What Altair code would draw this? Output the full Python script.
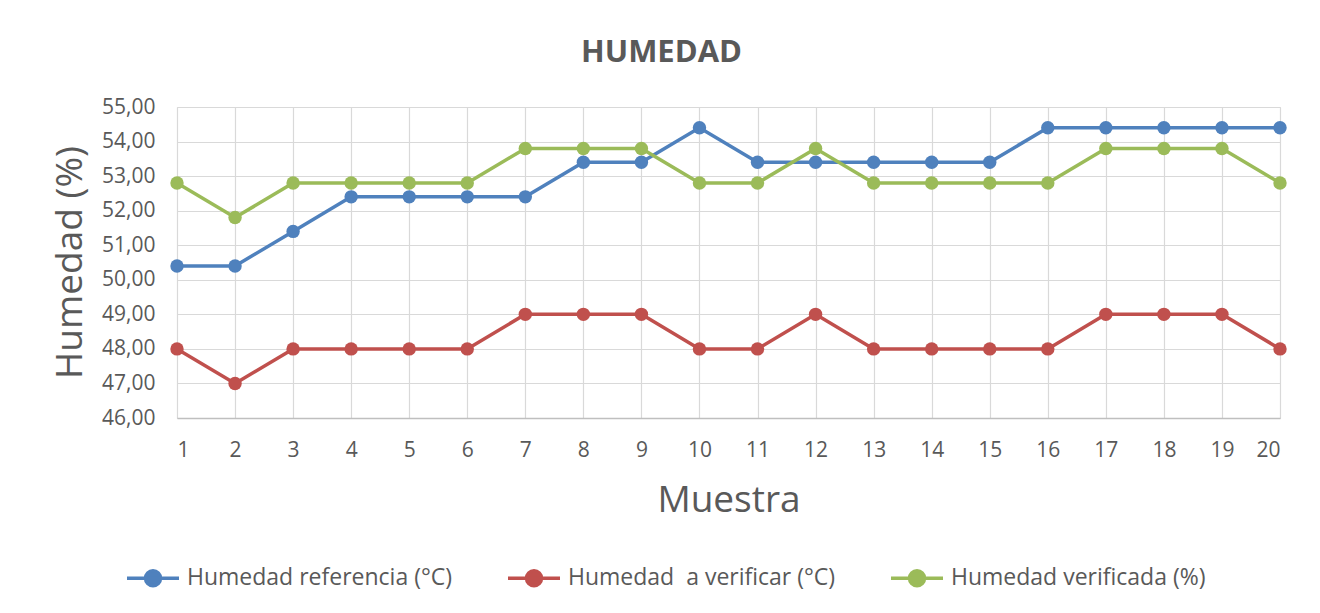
import altair as alt
import pandas as pd

muestras = list(range(1, 21))
series_names = ["Humedad referencia (°C)", "Humedad\u00a0 a verificar (°C)", "Humedad verificada (%)"]
referencia = [50.4, 50.4, 51.4, 52.4, 52.4, 52.4, 52.4, 53.4, 53.4, 54.4,
              53.4, 53.4, 53.4, 53.4, 53.4, 54.4, 54.4, 54.4, 54.4, 54.4]
a_verificar = [48, 47, 48, 48, 48, 48, 49, 49, 49, 48,
               48, 49, 48, 48, 48, 48, 49, 49, 49, 48]
verificada = [52.8, 51.8, 52.8, 52.8, 52.8, 52.8, 53.8, 53.8, 53.8, 52.8,
              52.8, 53.8, 52.8, 52.8, 52.8, 52.8, 53.8, 53.8, 53.8, 52.8]
colors = ["#4f81bd", "#c0504d", "#9bbb59"]
y_ticks = [46, 47, 48, 49, 50, 51, 52, 53, 54, 55]

rows = []
for name, vals in zip(series_names, [referencia, a_verificar, verificada]):
    for m, v in zip(muestras, vals):
        rows.append({"Muestra": m, "Serie": name, "Valor": v})
df = pd.DataFrame(rows)

FONT = "Open Sans"
GRAY = "#595959"

color = alt.Color(
    "Serie:N",
    scale=alt.Scale(domain=series_names, range=colors),
    sort=series_names,
    legend=alt.Legend(
        title=None, orient="none", direction="horizontal",
        legendX=-36, legendY=459,
        symbolType="M-2.6,0H2.6M-0.75,0A0.75,0.75,0,1,0,0.75,0A0.75,0.75,0,1,0,-0.75,0",
        symbolSize=400, symbolStrokeWidth=3.5, symbolOpacity=1,
        labelFontSize=23, labelColor=GRAY, labelFont=FONT, labelLimit=0,
        columnPadding=48, labelOffset=22,
    ),
)

x = alt.X("Muestra:Q",
          scale=alt.Scale(domain=[1, 20], nice=False, zero=False),
          axis=alt.Axis(values=muestras, title="Muestra", format="d",
                        titleFontSize=37, titleFont=FONT, titleColor=GRAY, titleFontWeight="normal",
                        titlePadding=22,
                        labelFontSize=21, labelFont=FONT, labelColor=GRAY, labelPadding=21,
                        ticks=False, domainColor="#bfbfbf", domainWidth=1.5,
                        gridColor="#d9d9d9", gridWidth=1.2))
y = alt.Y("Valor:Q",
          scale=alt.Scale(domain=[46, 55], nice=False, zero=False),
          axis=alt.Axis(values=y_ticks, title="Humedad (%)",
                        labelExpr="replace(format(datum.value, '.2f'), '.', ',')",
                        titleFontSize=37, titleFont=FONT, titleColor=GRAY, titleFontWeight="normal",
                        titleX=-107, titleY=155, titleAlign="center", titleBaseline="middle",
                        titleAngle=270,
                        labelFontSize=21, labelFont=FONT, labelColor=GRAY, labelPadding=22,
                        ticks=False, domain=False,
                        gridColor="#d9d9d9", gridWidth=1.2))

lines = alt.Chart(df).mark_line(strokeWidth=3.5).encode(x=x, y=y, color=color)
points = alt.Chart(df).mark_point(filled=True, size=180, opacity=1).encode(x=x, y=y, color=color)

chart = alt.layer(lines, points).properties(
    width=1103, height=311,
    title=alt.TitleParams("HUMEDAD", fontSize=31, font=FONT, fontWeight="bold", color=GRAY,
                          anchor="middle", frame="group", offset=27, dx=-67),
    padding={"left": 169, "top": 99, "right": 32, "bottom": 187},
    autosize=alt.AutoSizeParams(type="none"),
).configure_view(stroke=None).configure(background="white")

chart.save("out.html", embed_options={"renderer": "svg", "actions": False})
